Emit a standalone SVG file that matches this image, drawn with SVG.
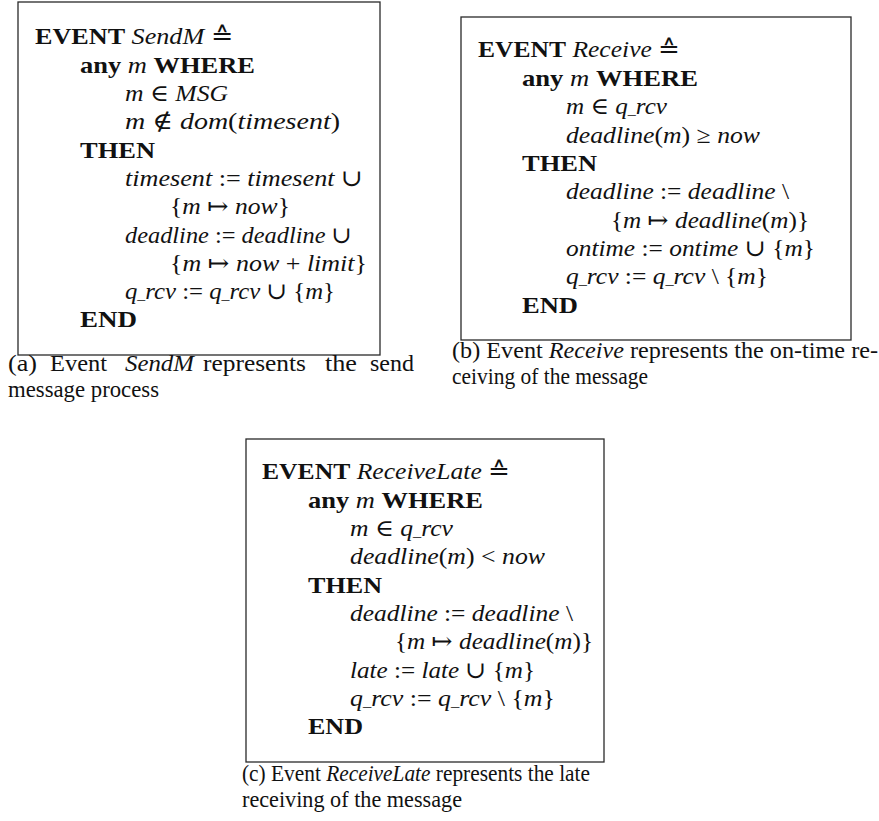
<svg xmlns="http://www.w3.org/2000/svg" width="879" height="821" viewBox="0 0 879 821">
  <style>
    text { font-family: "Liberation Serif", "DejaVu Serif", serif; font-size: 23.5px; fill: #111; }
    .b { font-weight: bold; }
    .i { font-style: italic; }
    .us { font-size: 15px; }
    .cap { font-size: 22.5px; }
    .frame { fill: none; stroke: #2a2a2a; stroke-width: 1.3; }
  </style>
  <rect width="879" height="821" fill="#ffffff"/>

  <!-- (a) SendM -->
  <g id="event-sendm">
    <rect class="frame" x="18" y="2" width="362" height="353"/>
    <text x="35" y="44" textLength="198" lengthAdjust="spacingAndGlyphs"><tspan class="b">EVENT</tspan> <tspan class="i">SendM</tspan> ≙</text>
    <text x="80" y="73" textLength="175" lengthAdjust="spacingAndGlyphs"><tspan class="b">any</tspan> <tspan class="i">m</tspan> <tspan class="b">WHERE</tspan></text>
    <text x="125" y="101" textLength="103" lengthAdjust="spacingAndGlyphs"><tspan class="i">m</tspan> ∈ <tspan class="i">MSG</tspan></text>
    <text x="125" y="129" textLength="215" lengthAdjust="spacingAndGlyphs"><tspan class="i">m</tspan> ∉ <tspan class="i">dom</tspan>(<tspan class="i">timesent</tspan>)</text>
    <text x="80" y="158" textLength="75" lengthAdjust="spacingAndGlyphs" class="b">THEN</text>
    <text x="125" y="186" textLength="238" lengthAdjust="spacingAndGlyphs"><tspan class="i">timesent</tspan> := <tspan class="i">timesent</tspan> ∪</text>
    <text x="170" y="214" textLength="120" lengthAdjust="spacingAndGlyphs">{<tspan class="i">m</tspan> ↦ <tspan class="i">now</tspan>}</text>
    <text x="125" y="243" textLength="227" lengthAdjust="spacingAndGlyphs"><tspan class="i">deadline</tspan> := <tspan class="i">deadline</tspan> ∪</text>
    <text x="170" y="271" textLength="197" lengthAdjust="spacingAndGlyphs">{<tspan class="i">m</tspan> ↦ <tspan class="i">now</tspan> + <tspan class="i">limit</tspan>}</text>
    <text x="125" y="299" textLength="210" lengthAdjust="spacingAndGlyphs"><tspan class="i">q<tspan class="us">_</tspan>rcv</tspan> := <tspan class="i">q<tspan class="us">_</tspan>rcv</tspan> ∪ {<tspan class="i">m</tspan>}</text>
    <text x="80" y="327" textLength="57" lengthAdjust="spacingAndGlyphs" class="b">END</text>
    <!-- justified caption line: one text per word -->
    <text class="cap" x="8" y="371" textLength="29" lengthAdjust="spacingAndGlyphs">(a)</text>
    <text class="cap" x="50" y="371" textLength="57" lengthAdjust="spacingAndGlyphs">Event</text>
    <text class="cap i" x="125" y="371" textLength="69" lengthAdjust="spacingAndGlyphs">SendM</text>
    <text class="cap" x="203" y="371" textLength="103" lengthAdjust="spacingAndGlyphs">represents</text>
    <text class="cap" x="325" y="371" textLength="32" lengthAdjust="spacingAndGlyphs">the</text>
    <text class="cap" x="370" y="371" textLength="44" lengthAdjust="spacingAndGlyphs">send</text>
    <text class="cap" x="8" y="397" textLength="151" lengthAdjust="spacingAndGlyphs">message process</text>
  </g>

  <!-- (b) Receive -->
  <g id="event-receive">
    <rect class="frame" x="461" y="17" width="390" height="323"/>
    <text x="478" y="57" textLength="202" lengthAdjust="spacingAndGlyphs"><tspan class="b">EVENT</tspan> <tspan class="i">Receive</tspan> ≙</text>
    <text x="522" y="86" textLength="176" lengthAdjust="spacingAndGlyphs"><tspan class="b">any</tspan> <tspan class="i">m</tspan> <tspan class="b">WHERE</tspan></text>
    <text x="566" y="114" textLength="101" lengthAdjust="spacingAndGlyphs"><tspan class="i">m</tspan> ∈ <tspan class="i">q<tspan class="us">_</tspan>rcv</tspan></text>
    <text x="566" y="143" textLength="194" lengthAdjust="spacingAndGlyphs"><tspan class="i">deadline</tspan>(<tspan class="i">m</tspan>) ≥ <tspan class="i">now</tspan></text>
    <text x="522" y="171" textLength="75" lengthAdjust="spacingAndGlyphs" class="b">THEN</text>
    <text x="566" y="199" textLength="223" lengthAdjust="spacingAndGlyphs"><tspan class="i">deadline</tspan> := <tspan class="i">deadline</tspan> \</text>
    <text x="611" y="228" textLength="198" lengthAdjust="spacingAndGlyphs">{<tspan class="i">m</tspan> ↦ <tspan class="i">deadline</tspan>(<tspan class="i">m</tspan>)}</text>
    <text x="566" y="256" textLength="249" lengthAdjust="spacingAndGlyphs"><tspan class="i">ontime</tspan> := <tspan class="i">ontime</tspan> ∪ {<tspan class="i">m</tspan>}</text>
    <text x="566" y="284" textLength="202" lengthAdjust="spacingAndGlyphs"><tspan class="i">q<tspan class="us">_</tspan>rcv</tspan> := <tspan class="i">q<tspan class="us">_</tspan>rcv</tspan> \ {<tspan class="i">m</tspan>}</text>
    <text x="522" y="313" textLength="56" lengthAdjust="spacingAndGlyphs" class="b">END</text>
    <text class="cap" x="452" y="358" textLength="426" lengthAdjust="spacingAndGlyphs">(b) Event <tspan class="i">Receive</tspan> represents the on-time re-</text>
    <text class="cap" x="452" y="384" textLength="196" lengthAdjust="spacingAndGlyphs">ceiving of the message</text>
  </g>

  <!-- (c) ReceiveLate -->
  <g id="event-receivelate">
    <rect class="frame" x="246" y="439" width="358" height="323"/>
    <text x="262" y="479" textLength="248" lengthAdjust="spacingAndGlyphs"><tspan class="b">EVENT</tspan> <tspan class="i">ReceiveLate</tspan> ≙</text>
    <text x="308" y="508" textLength="175" lengthAdjust="spacingAndGlyphs"><tspan class="b">any</tspan> <tspan class="i">m</tspan> <tspan class="b">WHERE</tspan></text>
    <text x="350" y="536" textLength="103" lengthAdjust="spacingAndGlyphs"><tspan class="i">m</tspan> ∈ <tspan class="i">q<tspan class="us">_</tspan>rcv</tspan></text>
    <text x="350" y="564" textLength="195" lengthAdjust="spacingAndGlyphs"><tspan class="i">deadline</tspan>(<tspan class="i">m</tspan>) &lt; <tspan class="i">now</tspan></text>
    <text x="308" y="593" textLength="74" lengthAdjust="spacingAndGlyphs" class="b">THEN</text>
    <text x="350" y="621" textLength="223" lengthAdjust="spacingAndGlyphs"><tspan class="i">deadline</tspan> := <tspan class="i">deadline</tspan> \</text>
    <text x="395" y="649" textLength="198" lengthAdjust="spacingAndGlyphs">{<tspan class="i">m</tspan> ↦ <tspan class="i">deadline</tspan>(<tspan class="i">m</tspan>)}</text>
    <text x="350" y="678" textLength="185" lengthAdjust="spacingAndGlyphs"><tspan class="i">late</tspan> := <tspan class="i">late</tspan> ∪ {<tspan class="i">m</tspan>}</text>
    <text x="350" y="706" textLength="205" lengthAdjust="spacingAndGlyphs"><tspan class="i">q<tspan class="us">_</tspan>rcv</tspan> := <tspan class="i">q<tspan class="us">_</tspan>rcv</tspan> \ {<tspan class="i">m</tspan>}</text>
    <text x="308" y="734" textLength="55" lengthAdjust="spacingAndGlyphs" class="b">END</text>
    <text class="cap" x="242" y="781" textLength="348" lengthAdjust="spacingAndGlyphs">(c) Event <tspan class="i">ReceiveLate</tspan> represents the late</text>
    <text class="cap" x="242" y="807" textLength="220" lengthAdjust="spacingAndGlyphs">receiving of the message</text>
  </g>
</svg>
